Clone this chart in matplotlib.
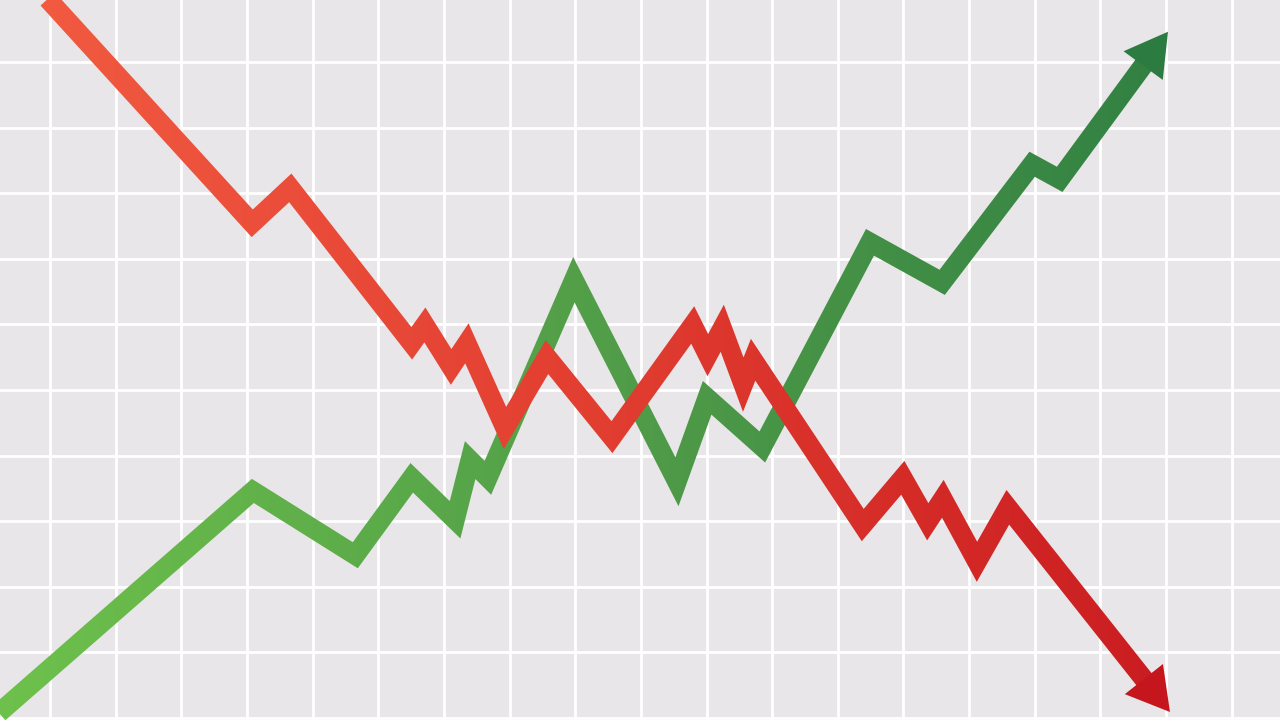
import numpy as np
import matplotlib.pyplot as plt
from matplotlib.colors import LinearSegmentedColormap
from matplotlib.patches import Rectangle

# Falling line (red), grid units
red_x = [-0.30, 3.08, 3.66, 5.51, 5.71, 6.11, 6.35, 6.93, 7.57, 8.56, 9.79,
         10.02, 10.24, 10.56, 10.71, 12.38, 12.99, 13.37, 13.60, 14.12, 14.59, 17.06]
red_y = [11.25, 7.54, 8.08, 5.71, 5.99, 5.35, 5.71, 4.42, 5.50, 4.28, 5.99,
         5.53, 5.94, 5.08, 5.46, 2.94, 3.66, 2.99, 3.34, 2.38, 3.21, 0.09]

# Rising line (green), grid units
green_x = [-1.07, 3.09, 4.65, 5.51, 6.17, 6.40, 6.67, 7.98, 9.55, 10.01,
           10.85, 12.49, 13.59, 14.96, 15.38, 17.03]
green_y = [-0.18, 3.46, 2.48, 3.66, 3.02, 3.93, 3.66, 6.68, 3.60, 4.88,
           4.13, 7.25, 6.64, 8.44, 8.21, 10.46]

red_colors = ["#f25b41", "#e03b2f", "#c5161d"]
green_colors = ["#6dc04b", "#4f9b48", "#2c7b41"]

LW = 14.0          # line width in points
HEAD_LEN = 0.64    # arrow head length, grid units
HEAD_W = 0.74      # arrow head width, grid units

fig = plt.figure(figsize=(12.8, 7.2), dpi=100)
ax = fig.add_axes([0, 0, 1, 1])
ax.set_facecolor("#e8e6e8")
ax.set_xlim(-0.762, 18.736)
ax.set_ylim(-0.032, 10.944)
ax.set_xticks(np.arange(0, 19))
ax.set_yticks(np.arange(0, 11))
ax.grid(True, color="white", lw=2.0)
ax.tick_params(length=0, labelbottom=False, labelleft=False)
ax.set_axisbelow(True)
for s in ax.spines.values():
    s.set_visible(False)


def gradient_arrow(x, y, colors, z, nstrips=90):
    x = np.array(x, dtype=float)
    y = np.array(y, dtype=float)
    cmap = LinearSegmentedColormap.from_list("g", colors)
    # stop the line where the arrow head starts
    d = np.array([x[-1] - x[-2], y[-1] - y[-2]])
    d = d / np.hypot(*d)
    bx, by = x[-1] - d[0] * HEAD_LEN, y[-1] - d[1] * HEAD_LEN
    lx = np.append(x[:-1], bx + d[0] * 0.05)
    ly = np.append(y[:-1], by + d[1] * 0.05)
    x0, x1 = ax.get_xlim()
    edges = np.linspace(x0, x1, nstrips + 1)
    for i in range(nstrips):
        c = cmap(i / (nstrips - 1))
        line, = ax.plot(lx, ly, color=c, lw=LW, solid_joinstyle="miter",
                        solid_capstyle="butt", zorder=z)
        rect = Rectangle((edges[i], -5), edges[i + 1] - edges[i], 25,
                         transform=ax.transData)
        line.set_clip_path(rect)
    ax.arrow(bx, by, x[-1] - bx, y[-1] - by, width=0.01, head_width=HEAD_W,
             head_length=HEAD_LEN, length_includes_head=True,
             color=colors[-1], lw=0, zorder=z)


gradient_arrow(green_x, green_y, green_colors, 3)
gradient_arrow(red_x, red_y, red_colors, 4)

fig.savefig("out.png", dpi=100)
